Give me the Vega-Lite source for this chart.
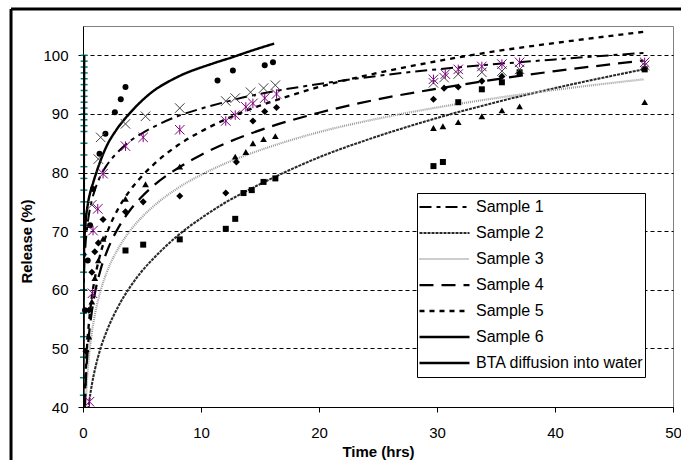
{
  "$schema": "https://vega.github.io/schema/vega-lite/v6.json",
  "width": 590,
  "height": 381,
  "autosize": "none",
  "padding": {"left": 83, "top": 26, "right": 8, "bottom": 53},
  "background": "white",
  "config": {
    "font": "Liberation Sans",
    "view": {"stroke": "#808080", "strokeWidth": 1},
    "axis": {"labelFont": "Liberation Sans", "titleFont": "Liberation Sans", "labelColor": "black", "titleColor": "black", "domainColor": "black", "tickColor": "black", "tickSize": 5, "labelFontSize": 15, "titleFontSize": 15, "titleFontWeight": "bold"},
    "legend": {
      "orient": "none", "legendX": 334, "legendY": 167, "title": null,
      "symbolType": "stroke", "symbolSize": 2500, "clipHeight": 26,
      "rowPadding": 0, "padding": 1, "strokeColor": "black", "fillColor": "white",
      "labelFont": "Liberation Sans", "labelFontSize": 16, "labelColor": "black", "labelOffset": 5, "labelLimit": 300
    }
  },
  "datasets": {
    "curves": [
      {"s": "Sample 1", "t": 0.005, "v": 45}, {"s": "Sample 1", "t": 0.02, "v": 53.3}, {"s": "Sample 1", "t": 0.05, "v": 58.9}, {"s": "Sample 1", "t": 0.1, "v": 63.1}, {"s": "Sample 1", "t": 0.2, "v": 67.3}, {"s": "Sample 1", "t": 0.35, "v": 70.6}, {"s": "Sample 1", "t": 0.5, "v": 72.8}, {"s": "Sample 1", "t": 0.75, "v": 75.3}, {"s": "Sample 1", "t": 1, "v": 77}, {"s": "Sample 1", "t": 1.5, "v": 79.5}, {"s": "Sample 1", "t": 2, "v": 81.2}, {"s": "Sample 1", "t": 3, "v": 83.6}, {"s": "Sample 1", "t": 4, "v": 85.4}, {"s": "Sample 1", "t": 5, "v": 86.7}, {"s": "Sample 1", "t": 6, "v": 87.8}, {"s": "Sample 1", "t": 8, "v": 89.6}, {"s": "Sample 1", "t": 10, "v": 90.9}, {"s": "Sample 1", "t": 12, "v": 92}, {"s": "Sample 1", "t": 14, "v": 93}, {"s": "Sample 1", "t": 16, "v": 93.8}, {"s": "Sample 1", "t": 20, "v": 95.1}, {"s": "Sample 1", "t": 25, "v": 96.5}, {"s": "Sample 1", "t": 30, "v": 97.6}, {"s": "Sample 1", "t": 35, "v": 98.5}, {"s": "Sample 1", "t": 40, "v": 99.3}, {"s": "Sample 1", "t": 47.5, "v": 100.4},
      {"s": "Sample 2", "t": 0.45, "v": 39.7}, {"s": "Sample 2", "t": 0.5, "v": 40.5}, {"s": "Sample 2", "t": 0.75, "v": 43.8}, {"s": "Sample 2", "t": 1, "v": 46.3}, {"s": "Sample 2", "t": 1.5, "v": 50.1}, {"s": "Sample 2", "t": 2, "v": 52.9}, {"s": "Sample 2", "t": 3, "v": 57.2}, {"s": "Sample 2", "t": 4, "v": 60.5}, {"s": "Sample 2", "t": 5, "v": 63.2}, {"s": "Sample 2", "t": 6, "v": 65.4}, {"s": "Sample 2", "t": 8, "v": 69.2}, {"s": "Sample 2", "t": 10, "v": 72.2}, {"s": "Sample 2", "t": 12, "v": 74.8}, {"s": "Sample 2", "t": 14, "v": 77}, {"s": "Sample 2", "t": 16, "v": 79}, {"s": "Sample 2", "t": 20, "v": 82.6}, {"s": "Sample 2", "t": 25, "v": 86.2}, {"s": "Sample 2", "t": 30, "v": 89.3}, {"s": "Sample 2", "t": 35, "v": 92}, {"s": "Sample 2", "t": 40, "v": 94.4}, {"s": "Sample 2", "t": 47.5, "v": 97.6},
      {"s": "Sample 3", "t": 0.22, "v": 39.9}, {"s": "Sample 3", "t": 0.25, "v": 41.3}, {"s": "Sample 3", "t": 0.35, "v": 44.8}, {"s": "Sample 3", "t": 0.5, "v": 48.5}, {"s": "Sample 3", "t": 0.75, "v": 52.7}, {"s": "Sample 3", "t": 1, "v": 55.7}, {"s": "Sample 3", "t": 1.5, "v": 59.9}, {"s": "Sample 3", "t": 2, "v": 62.9}, {"s": "Sample 3", "t": 3, "v": 67.1}, {"s": "Sample 3", "t": 4, "v": 70.1}, {"s": "Sample 3", "t": 5, "v": 72.4}, {"s": "Sample 3", "t": 6, "v": 74.3}, {"s": "Sample 3", "t": 8, "v": 77.3}, {"s": "Sample 3", "t": 10, "v": 79.6}, {"s": "Sample 3", "t": 12, "v": 81.5}, {"s": "Sample 3", "t": 14, "v": 83.1}, {"s": "Sample 3", "t": 16, "v": 84.5}, {"s": "Sample 3", "t": 20, "v": 86.9}, {"s": "Sample 3", "t": 25, "v": 89.2}, {"s": "Sample 3", "t": 30, "v": 91.1}, {"s": "Sample 3", "t": 35, "v": 92.7}, {"s": "Sample 3", "t": 40, "v": 94.1}, {"s": "Sample 3", "t": 47.5, "v": 95.9},
      {"s": "Sample 4", "t": 0.15, "v": 39.8}, {"s": "Sample 4", "t": 0.2, "v": 42.7}, {"s": "Sample 4", "t": 0.35, "v": 48.5}, {"s": "Sample 4", "t": 0.5, "v": 52.2}, {"s": "Sample 4", "t": 0.75, "v": 56.3}, {"s": "Sample 4", "t": 1, "v": 59.3}, {"s": "Sample 4", "t": 1.5, "v": 63.5}, {"s": "Sample 4", "t": 2, "v": 66.4}, {"s": "Sample 4", "t": 3, "v": 70.6}, {"s": "Sample 4", "t": 4, "v": 73.6}, {"s": "Sample 4", "t": 5, "v": 75.9}, {"s": "Sample 4", "t": 6, "v": 77.8}, {"s": "Sample 4", "t": 8, "v": 80.7}, {"s": "Sample 4", "t": 10, "v": 83}, {"s": "Sample 4", "t": 12, "v": 84.9}, {"s": "Sample 4", "t": 14, "v": 86.5}, {"s": "Sample 4", "t": 16, "v": 87.9}, {"s": "Sample 4", "t": 20, "v": 90.2}, {"s": "Sample 4", "t": 25, "v": 92.5}, {"s": "Sample 4", "t": 30, "v": 94.3}, {"s": "Sample 4", "t": 35, "v": 95.9}, {"s": "Sample 4", "t": 40, "v": 97.3}, {"s": "Sample 4", "t": 47.5, "v": 99.1},
      {"s": "Sample 5", "t": 0.13, "v": 39.7}, {"s": "Sample 5", "t": 0.2, "v": 44.4}, {"s": "Sample 5", "t": 0.35, "v": 50.5}, {"s": "Sample 5", "t": 0.5, "v": 54.3}, {"s": "Sample 5", "t": 0.75, "v": 58.8}, {"s": "Sample 5", "t": 1, "v": 61.9}, {"s": "Sample 5", "t": 1.5, "v": 66.3}, {"s": "Sample 5", "t": 2, "v": 69.5}, {"s": "Sample 5", "t": 3, "v": 73.9}, {"s": "Sample 5", "t": 4, "v": 77}, {"s": "Sample 5", "t": 5, "v": 79.4}, {"s": "Sample 5", "t": 6, "v": 81.4}, {"s": "Sample 5", "t": 8, "v": 84.6}, {"s": "Sample 5", "t": 10, "v": 87}, {"s": "Sample 5", "t": 12, "v": 89}, {"s": "Sample 5", "t": 14, "v": 90.7}, {"s": "Sample 5", "t": 16, "v": 92.1}, {"s": "Sample 5", "t": 20, "v": 94.6}, {"s": "Sample 5", "t": 25, "v": 97}, {"s": "Sample 5", "t": 30, "v": 99}, {"s": "Sample 5", "t": 35, "v": 100.7}, {"s": "Sample 5", "t": 40, "v": 102.1}, {"s": "Sample 5", "t": 47.5, "v": 104},
      {"s": "Sample 6", "t": 0.06, "v": 64}, {"s": "Sample 6", "t": 0.1, "v": 67.5}, {"s": "Sample 6", "t": 0.2, "v": 71}, {"s": "Sample 6", "t": 0.4, "v": 74.5}, {"s": "Sample 6", "t": 0.6, "v": 76.5}, {"s": "Sample 6", "t": 0.85, "v": 78.2}, {"s": "Sample 6", "t": 1.3, "v": 81}, {"s": "Sample 6", "t": 2, "v": 84.5}, {"s": "Sample 6", "t": 2.8, "v": 87.2}, {"s": "Sample 6", "t": 4, "v": 90.2}, {"s": "Sample 6", "t": 5.7, "v": 93.5}, {"s": "Sample 6", "t": 7.9, "v": 96.2}, {"s": "Sample 6", "t": 11, "v": 98.6}, {"s": "Sample 6", "t": 12.7, "v": 99.7}, {"s": "Sample 6", "t": 14, "v": 100.6}, {"s": "Sample 6", "t": 16.2, "v": 102},
      {"s": "BTA diffusion into water", "t": 0.03, "v": 40}, {"s": "BTA diffusion into water", "t": 0.04, "v": 50}, {"s": "BTA diffusion into water", "t": 0.05, "v": 60}, {"s": "BTA diffusion into water", "t": 0.06, "v": 70}, {"s": "BTA diffusion into water", "t": 0.07, "v": 80}, {"s": "BTA diffusion into water", "t": 0.08, "v": 90}, {"s": "BTA diffusion into water", "t": 0.1, "v": 100}
    ],
    "markers": [
      {"m": "circle", "t": 0.17, "v": 56.5}, {"m": "circle", "t": 0.4, "v": 65}, {"m": "circle", "t": 0.6, "v": 71}, {"m": "circle", "t": 0.85, "v": 77.2}, {"m": "circle", "t": 1.4, "v": 83.2}, {"m": "circle", "t": 1.9, "v": 86.6}, {"m": "circle", "t": 2.7, "v": 90.3}, {"m": "circle", "t": 3.2, "v": 92.5}, {"m": "circle", "t": 3.6, "v": 94.6}, {"m": "circle", "t": 11.4, "v": 95.7}, {"m": "circle", "t": 12.7, "v": 97.4}, {"m": "circle", "t": 15.4, "v": 98.3}, {"m": "circle", "t": 16.1, "v": 98.8},
      {"m": "x", "t": 0.75, "v": 74.5}, {"m": "x", "t": 1.3, "v": 82.3}, {"m": "x", "t": 1.5, "v": 86}, {"m": "x", "t": 3.6, "v": 88.3}, {"m": "x", "t": 5.3, "v": 89.6}, {"m": "x", "t": 8.2, "v": 91}, {"m": "x", "t": 12.1, "v": 92.2}, {"m": "x", "t": 12.9, "v": 92.7}, {"m": "x", "t": 14.2, "v": 93.7}, {"m": "x", "t": 15.3, "v": 94.4}, {"m": "x", "t": 16.3, "v": 94.9}, {"m": "x", "t": 29.7, "v": 95.3}, {"m": "x", "t": 30.6, "v": 96.2}, {"m": "x", "t": 31.8, "v": 96.8}, {"m": "x", "t": 33.8, "v": 97.1}, {"m": "x", "t": 35.5, "v": 97.3}, {"m": "x", "t": 37, "v": 97.6}, {"m": "x", "t": 47.6, "v": 98.3},
      {"m": "asterisk", "t": 0.55, "v": 40.9}, {"m": "asterisk", "t": 0.8, "v": 59.4}, {"m": "asterisk", "t": 0.85, "v": 70.1}, {"m": "asterisk", "t": 1.25, "v": 73.8}, {"m": "asterisk", "t": 1.7, "v": 79.8}, {"m": "asterisk", "t": 3.6, "v": 84.5}, {"m": "asterisk", "t": 5.1, "v": 86}, {"m": "asterisk", "t": 8.2, "v": 87.3}, {"m": "asterisk", "t": 12.1, "v": 88.8}, {"m": "asterisk", "t": 12.9, "v": 89.8}, {"m": "asterisk", "t": 13.8, "v": 91.2}, {"m": "asterisk", "t": 14.4, "v": 91.8}, {"m": "asterisk", "t": 15.4, "v": 92.7}, {"m": "asterisk", "t": 16.4, "v": 93.4}, {"m": "asterisk", "t": 29.7, "v": 95.9}, {"m": "asterisk", "t": 30.7, "v": 96.8}, {"m": "asterisk", "t": 31.8, "v": 97.6}, {"m": "asterisk", "t": 33.8, "v": 98.1}, {"m": "asterisk", "t": 35.5, "v": 98.5}, {"m": "asterisk", "t": 37, "v": 98.8}, {"m": "asterisk", "t": 47.6, "v": 98.8},
      {"m": "diamond", "t": 0.25, "v": 49.5}, {"m": "diamond", "t": 0.5, "v": 56.5}, {"m": "diamond", "t": 0.75, "v": 63}, {"m": "diamond", "t": 1.0, "v": 66.5}, {"m": "diamond", "t": 1.3, "v": 68}, {"m": "diamond", "t": 1.7, "v": 72}, {"m": "diamond", "t": 3.6, "v": 73.3}, {"m": "diamond", "t": 5.1, "v": 75}, {"m": "diamond", "t": 8.2, "v": 76}, {"m": "diamond", "t": 12.1, "v": 76.5}, {"m": "diamond", "t": 13, "v": 81.8}, {"m": "diamond", "t": 14.4, "v": 88.8}, {"m": "diamond", "t": 15.4, "v": 90.4}, {"m": "diamond", "t": 16.4, "v": 91.1}, {"m": "diamond", "t": 29.7, "v": 92.5}, {"m": "diamond", "t": 30.6, "v": 94.4}, {"m": "diamond", "t": 31.8, "v": 94.6}, {"m": "diamond", "t": 33.8, "v": 95.6}, {"m": "diamond", "t": 35.5, "v": 96.4}, {"m": "diamond", "t": 37, "v": 97}, {"m": "diamond", "t": 47.6, "v": 97.8},
      {"m": "triangle", "t": 0.5, "v": 52}, {"m": "triangle", "t": 0.75, "v": 58}, {"m": "triangle", "t": 1.0, "v": 62}, {"m": "triangle", "t": 1.3, "v": 65}, {"m": "triangle", "t": 1.7, "v": 68.7}, {"m": "triangle", "t": 3.6, "v": 75.5}, {"m": "triangle", "t": 5.3, "v": 78}, {"m": "triangle", "t": 8.2, "v": 81}, {"m": "triangle", "t": 12.9, "v": 82.7}, {"m": "triangle", "t": 13.8, "v": 83.5}, {"m": "triangle", "t": 14.4, "v": 85}, {"m": "triangle", "t": 15.3, "v": 85.7}, {"m": "triangle", "t": 16.3, "v": 86.2}, {"m": "triangle", "t": 29.7, "v": 87.6}, {"m": "triangle", "t": 30.5, "v": 87.9}, {"m": "triangle", "t": 31.8, "v": 88.6}, {"m": "triangle", "t": 33.8, "v": 89.6}, {"m": "triangle", "t": 35.5, "v": 90.6}, {"m": "triangle", "t": 37, "v": 91.3}, {"m": "triangle", "t": 47.6, "v": 92},
      {"m": "square", "t": 3.6, "v": 66.7}, {"m": "square", "t": 5.1, "v": 67.7}, {"m": "square", "t": 8.2, "v": 68.6}, {"m": "square", "t": 12.1, "v": 70.4}, {"m": "square", "t": 12.9, "v": 72.1}, {"m": "square", "t": 13.6, "v": 76.5}, {"m": "square", "t": 14.3, "v": 77}, {"m": "square", "t": 15.3, "v": 78.4}, {"m": "square", "t": 16.3, "v": 79}, {"m": "square", "t": 29.7, "v": 81.1}, {"m": "square", "t": 30.5, "v": 81.8}, {"m": "square", "t": 31.8, "v": 92}, {"m": "square", "t": 33.8, "v": 94.2}, {"m": "square", "t": 35.5, "v": 95.4}, {"m": "square", "t": 37, "v": 97.1}, {"m": "square", "t": 47.6, "v": 97.6},
      {"m": "bta", "t": 0.03, "v": 42}, {"m": "bta", "t": 0.035, "v": 45}, {"m": "bta", "t": 0.04, "v": 48.5}, {"m": "bta", "t": 0.04, "v": 52}, {"m": "bta", "t": 0.045, "v": 56}, {"m": "bta", "t": 0.05, "v": 60}, {"m": "bta", "t": 0.05, "v": 63}, {"m": "bta", "t": 0.055, "v": 66}, {"m": "bta", "t": 0.06, "v": 69}, {"m": "bta", "t": 0.06, "v": 71}, {"m": "bta", "t": 0.065, "v": 73}, {"m": "bta", "t": 0.065, "v": 75}, {"m": "bta", "t": 0.07, "v": 77}, {"m": "bta", "t": 0.07, "v": 79}, {"m": "bta", "t": 0.075, "v": 81}, {"m": "bta", "t": 0.075, "v": 83}, {"m": "bta", "t": 0.08, "v": 85}, {"m": "bta", "t": 0.08, "v": 87}, {"m": "bta", "t": 0.085, "v": 88}, {"m": "bta", "t": 0.085, "v": 89}, {"m": "bta", "t": 0.09, "v": 90}, {"m": "bta", "t": 0.09, "v": 91}, {"m": "bta", "t": 0.09, "v": 92}, {"m": "bta", "t": 0.095, "v": 93}, {"m": "bta", "t": 0.095, "v": 94}, {"m": "bta", "t": 0.095, "v": 95}, {"m": "bta", "t": 0.1, "v": 96}, {"m": "bta", "t": 0.1, "v": 97}, {"m": "bta", "t": 0.1, "v": 98}, {"m": "bta", "t": 0.1, "v": 99}, {"m": "bta", "t": 0.1, "v": 100}
    ]
  },
  "layer": [
    {"data": {"name": "markers"}, "transform": [{"filter": {"field": "m", "equal": "bta"}}],
     "mark": {"type": "point", "shape": "M-1,0L1,0", "filled": false, "color": "#008080", "strokeWidth": 1.5, "size": 49, "opacity": 1},
     "encoding": {
       "x": {"field": "t", "type": "quantitative", "scale": {"domain": [0, 50], "nice": false, "zero": false},
         "axis": {"values": [0, 10, 20, 30, 40, 50], "title": "Time (hrs)", "grid": false, "labelPadding": 13, "titlePadding": 4, "labelFlush": false}},
       "y": {"field": "v", "type": "quantitative", "scale": {"domain": [40, 105], "nice": false, "zero": false},
         "axis": {"values": [40, 50, 60, 70, 80, 90, 100], "title": "Release (%)", "grid": true, "gridColor": "black", "gridDash": [4, 3], "gridOpacity": 1, "gridWidth": 1, "labelPadding": 10, "titlePadding": 8, "titleY": 215, "labelFlush": false}}
     }},
    {"data": {"name": "curves"},
     "mark": {"type": "line", "interpolate": "monotone", "clip": true},
     "encoding": {
       "x": {"field": "t", "type": "quantitative"},
       "y": {"field": "v", "type": "quantitative"},
       "color": {"field": "s", "type": "nominal", "sort": null,
         "scale": {"domain": ["Sample 1", "Sample 2", "Sample 3", "Sample 4", "Sample 5", "Sample 6", "BTA diffusion into water"], "range": ["black", "#2a2a2a", "#9a9a9a", "black", "black", "black", "black"]},
         "legend": {"title": null}},
       "strokeDash": {"field": "s", "type": "nominal", "sort": null,
         "scale": {"domain": ["Sample 1", "Sample 2", "Sample 3", "Sample 4", "Sample 5", "Sample 6", "BTA diffusion into water"], "range": [[12, 5, 4, 5], [3, 1], [1, 1], [14, 8], [5, 5], [1, 0], [1, 0]]},
         "legend": {"title": null}},
       "strokeWidth": {"field": "s", "type": "nominal", "sort": null,
         "scale": {"domain": ["Sample 1", "Sample 2", "Sample 3", "Sample 4", "Sample 5", "Sample 6", "BTA diffusion into water"], "range": [2, 2.5, 2, 2, 2, 1.5, 3]},
         "legend": {"title": null}}
     }},
    {"data": {"name": "markers"}, "transform": [{"filter": {"field": "m", "equal": "square"}}],
     "mark": {"type": "point", "shape": "square", "filled": true, "color": "black", "size": 36, "opacity": 1},
     "encoding": {"x": {"field": "t", "type": "quantitative"}, "y": {"field": "v", "type": "quantitative"}}},
    {"data": {"name": "markers"}, "transform": [{"filter": {"field": "m", "equal": "triangle"}}],
     "mark": {"type": "point", "shape": "triangle-up", "filled": true, "color": "black", "size": 45, "opacity": 1},
     "encoding": {"x": {"field": "t", "type": "quantitative"}, "y": {"field": "v", "type": "quantitative"}}},
    {"data": {"name": "markers"}, "transform": [{"filter": {"field": "m", "equal": "diamond"}}],
     "mark": {"type": "point", "shape": "diamond", "filled": true, "color": "black", "size": 50, "opacity": 1},
     "encoding": {"x": {"field": "t", "type": "quantitative"}, "y": {"field": "v", "type": "quantitative"}}},
    {"data": {"name": "markers"}, "transform": [{"filter": {"field": "m", "equal": "circle"}}],
     "mark": {"type": "point", "shape": "circle", "filled": true, "color": "black", "size": 36, "opacity": 1},
     "encoding": {"x": {"field": "t", "type": "quantitative"}, "y": {"field": "v", "type": "quantitative"}}},
    {"data": {"name": "markers"}, "transform": [{"filter": {"field": "m", "equal": "x"}}],
     "mark": {"type": "point", "shape": "M-1,-1L1,1M-1,1L1,-1", "filled": false, "color": "#404040", "strokeWidth": 1, "size": 90, "opacity": 1},
     "encoding": {"x": {"field": "t", "type": "quantitative"}, "y": {"field": "v", "type": "quantitative"}}},
    {"data": {"name": "markers"}, "transform": [{"filter": {"field": "m", "equal": "asterisk"}}],
     "mark": {"type": "point", "shape": "M-1,-1L1,1M-1,1L1,-1M0,-1L0,1", "filled": false, "color": "#800080", "strokeWidth": 1, "size": 90, "opacity": 1},
     "encoding": {"x": {"field": "t", "type": "quantitative"}, "y": {"field": "v", "type": "quantitative"}}},
    {"data": {"values": [{}]},
     "mark": {"type": "rule", "color": "black", "strokeWidth": 3, "clip": false},
     "encoding": {"x": {"datum": -6.1, "type": "quantitative"}, "x2": {"datum": 52}, "y": {"datum": 107.9, "type": "quantitative"}}},
    {"data": {"values": [{}]},
     "mark": {"type": "rule", "color": "black", "strokeWidth": 3, "clip": false},
     "encoding": {"x": {"datum": -6.1, "type": "quantitative"}, "y": {"datum": 107.9, "type": "quantitative"}, "y2": {"datum": 30}}}
  ]
}
